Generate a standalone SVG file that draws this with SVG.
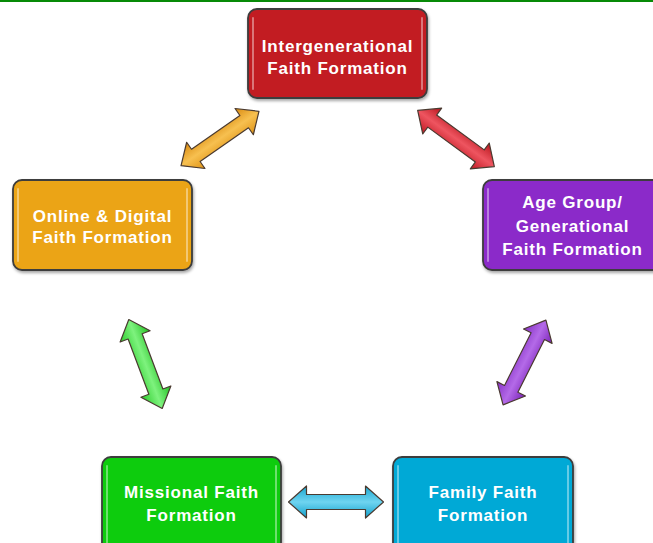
<svg xmlns="http://www.w3.org/2000/svg" width="653" height="543" viewBox="0 0 653 543">
<style>
.box{stroke:#3c3c3c;stroke-width:1.8}
.gloss{fill:none;stroke:#ffffff;stroke-opacity:0.4;stroke-width:2;stroke-linecap:round}
.lbl{font-family:"Liberation Sans",Arial,sans-serif;font-weight:bold;font-size:17px;fill:#ffffff;text-anchor:middle;letter-spacing:0.8px}
.arr{stroke:#4a3a30;stroke-width:1.2;stroke-linejoin:round}
</style>
<defs>
<filter id="sh" x="-10%" y="-10%" width="120%" height="130%">
<feDropShadow dx="1" dy="2" stdDeviation="1.5" flood-color="#000" flood-opacity="0.35"/>
</filter>
<polygon id="dbl" points="-47.5,0 -29.5,-16 -29.5,-7.5 29.5,-7.5 29.5,-16 47.5,0 29.5,16 29.5,7.5 -29.5,7.5 -29.5,16"/>
<linearGradient id="gO" x1="0" y1="0" x2="0" y2="1"><stop offset="0" stop-color="#d98a10"/><stop offset="0.5" stop-color="#f7c050"/><stop offset="1" stop-color="#e09416"/></linearGradient>
<linearGradient id="gR" x1="0" y1="0" x2="0" y2="1"><stop offset="0" stop-color="#b8141c"/><stop offset="0.5" stop-color="#ee5560"/><stop offset="1" stop-color="#c01822"/></linearGradient>
<linearGradient id="gG" x1="0" y1="0" x2="0" y2="1"><stop offset="0" stop-color="#22c022"/><stop offset="0.5" stop-color="#7ef27e"/><stop offset="1" stop-color="#2ccc2c"/></linearGradient>
<linearGradient id="gP" x1="0" y1="0" x2="0" y2="1"><stop offset="0" stop-color="#7a22b8"/><stop offset="0.5" stop-color="#b46ae8"/><stop offset="1" stop-color="#8430c4"/></linearGradient>
<linearGradient id="gB" x1="0" y1="0" x2="0" y2="1"><stop offset="0" stop-color="#1aa6d0"/><stop offset="0.5" stop-color="#6fd4f0"/><stop offset="1" stop-color="#10a0cc"/></linearGradient>
</defs>
<rect x="0" y="0" width="653" height="543" fill="#ffffff"/>
<rect x="0" y="0" width="653" height="2" fill="#078a07"/>

<g id="connectors">
<use href="#dbl" class="arr" fill="url(#gO)" transform="translate(220,138.5) rotate(-34.9)"/>
<use href="#dbl" class="arr" fill="url(#gR)" transform="translate(456,138.5) rotate(36.2)"/>
<use href="#dbl" class="arr" fill="url(#gG)" transform="translate(145.5,364) rotate(69.4)"/>
<use href="#dbl" class="arr" fill="url(#gP)" transform="translate(524.5,362.5) rotate(116.8)"/>
<use href="#dbl" class="arr" fill="url(#gB)" transform="translate(336,502)"/>
</g>

<g id="intergenerational">
<rect class="box" x="248" y="9" width="179" height="89" rx="9" fill="#c21f24" filter="url(#sh)"/>
<path class="gloss" d="M253,18 V89 M422,18 V89"/>
<text class="lbl" x="337.5" y="52">Intergenerational</text>
<text class="lbl" x="337.5" y="74">Faith Formation</text>
</g>

<g id="online">
<rect class="box" x="13" y="180" width="179" height="90" rx="9" fill="#eba414" filter="url(#sh)"/>
<path class="gloss" d="M18,189 V261 M187,189 V261"/>
<text class="lbl" x="102.5" y="222">Online &amp; Digital</text>
<text class="lbl" x="102.5" y="243">Faith Formation</text>
</g>

<g id="agegroup">
<rect class="box" x="483" y="180" width="180" height="90" rx="9" fill="#8b2bc9" filter="url(#sh)"/>
<path class="gloss" d="M488,189 V261"/>
<text class="lbl" x="572.5" y="208">Age Group/</text>
<text class="lbl" x="572.5" y="232">Generational</text>
<text class="lbl" x="572.5" y="255">Faith Formation</text>
</g>

<g id="missional">
<rect class="box" x="102" y="457" width="179" height="95" rx="9" fill="#11cc11" filter="url(#sh)"/>
<path class="gloss" d="M107,466 V545 M276,466 V545"/>
<text class="lbl" x="191.5" y="498">Missional Faith</text>
<text class="lbl" x="191.5" y="521">Formation</text>
</g>

<g id="family">
<rect class="box" x="393" y="457" width="180" height="95" rx="9" fill="#00a9d6" filter="url(#sh)"/>
<path class="gloss" d="M398,466 V545 M568,466 V545"/>
<text class="lbl" x="483" y="498">Family Faith</text>
<text class="lbl" x="483" y="521">Formation</text>
</g>
</svg>
